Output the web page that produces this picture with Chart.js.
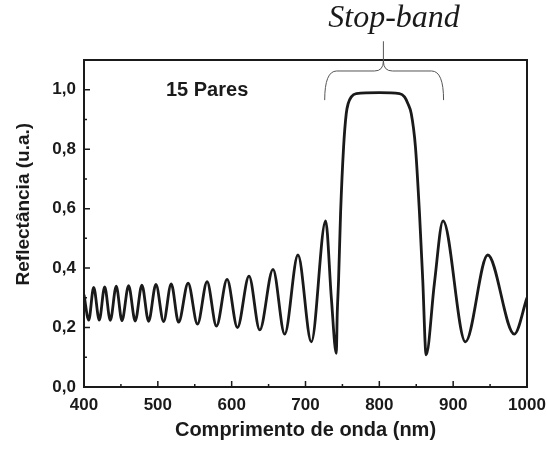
<!DOCTYPE html>
<html><head><meta charset="utf-8">
<script src="https://cdn.jsdelivr.net/npm/chart.js@4/dist/chart.umd.min.js"></script>
<style>html,body{margin:0;padding:0;background:#fff;}</style>
</head><body>
<canvas id="c" width="547" height="450"></canvas>
<script>
// ---- data ----
const wavelength = [400, 406.4, 413.1, 420.7, 428.0, 435.6, 443.7, 451.4, 460.4, 469.4, 478.4, 487.5, 497.4, 507.8, 518.1, 528.1, 541.0, 553.7, 566.7, 579.4, 593.8, 607.8, 623.5, 638.0, 656.0, 671.8, 689.8, 707.9, 727.3, 735.0, 741.7, 743.0, 744.8, 747.5, 751.6, 755.2, 757.9, 762.0, 768.7, 800, 827.3, 834.1, 838.6, 843.2, 848.9, 854.4, 858.8, 863.4, 874.6, 886.3, 916.6, 946.8, 982.8, 1000];
const reflectance = [0.31, 0.225, 0.335, 0.225, 0.337, 0.224, 0.339, 0.223, 0.341, 0.222, 0.343, 0.221, 0.345, 0.220, 0.347, 0.218, 0.349, 0.212, 0.354, 0.205, 0.362, 0.200, 0.373, 0.192, 0.396, 0.178, 0.444, 0.152, 0.559, 0.30, 0.113, 0.248, 0.36, 0.584, 0.808, 0.92, 0.954, 0.976, 0.987, 0.99, 0.987, 0.976, 0.954, 0.92, 0.808, 0.584, 0.36, 0.108, 0.349, 0.559, 0.152, 0.444, 0.178, 0.30];
const xTickValues = [400, 500, 600, 700, 800, 900, 1000];
const xMinorTicks = [450, 550, 650, 750, 850, 950];
const yTickValues = [0, 0.2, 0.4, 0.6, 0.8, 1.0];
const yMinorTicks = [0.1, 0.3, 0.5, 0.7, 0.9];
const xTitle = 'Comprimento de onda (nm)';
const yTitle = 'Reflectância (u.a.)';
const pairsLabel = '15 Pares';
const bandLabel = 'Stop-band';

const points = wavelength.map((w, i) => ({x: w, y: reflectance[i]}));
const INK = '#1a1a1a';
const SANS = '"Liberation Sans", Arial, sans-serif';

const decor = {
  id: 'decor',
  afterDraw(chart) {
    const {ctx, chartArea: a, scales: {x, y}} = chart;
    ctx.save();
    // frame
    ctx.strokeStyle = INK; ctx.lineWidth = 2;
    ctx.strokeRect(a.left, a.top, a.right - a.left, a.bottom - a.top);
    // inward ticks
    ctx.lineWidth = 1.5;
    ctx.beginPath();
    xTickValues.forEach(v => { const p = x.getPixelForValue(v); ctx.moveTo(p, a.bottom); ctx.lineTo(p, a.bottom - 6); });
    xMinorTicks.forEach(v => { const p = x.getPixelForValue(v); ctx.moveTo(p, a.bottom); ctx.lineTo(p, a.bottom - 3); });
    yTickValues.forEach(v => { const p = y.getPixelForValue(v); ctx.moveTo(a.left, p); ctx.lineTo(a.left + 6, p); });
    yMinorTicks.forEach(v => { const p = y.getPixelForValue(v); ctx.moveTo(a.left, p); ctx.lineTo(a.left + 3, p); });
    ctx.stroke();
    ctx.fillStyle = INK;
    // y axis title
    ctx.save();
    ctx.font = 'bold 19px ' + SANS;
    ctx.textAlign = 'center'; ctx.textBaseline = 'middle';
    ctx.translate(24, y.getPixelForValue(0.615));
    ctx.rotate(-Math.PI / 2);
    ctx.fillText(yTitle, 0, 0);
    ctx.restore();
    // "15 Pares"
    ctx.font = 'bold 20px ' + SANS;
    ctx.textAlign = 'left'; ctx.textBaseline = 'alphabetic';
    ctx.fillText(pairsLabel, x.getPixelForValue(511), y.getPixelForValue(0.978));
    // Stop-band label
    ctx.font = 'italic 32px "Liberation Serif", "Times New Roman", serif';
    ctx.textAlign = 'center';
    ctx.fillText(bandLabel, x.getPixelForValue(820), y.getPixelForValue(1.21));
    // brace
    const xL = x.getPixelForValue(726), xR = x.getPixelForValue(887), xC = x.getPixelForValue(805.5);
    const yB = y.getPixelForValue(0.965), yH = y.getPixelForValue(1.063), yT = y.getPixelForValue(1.163);
    ctx.strokeStyle = '#555'; ctx.lineWidth = 1;
    ctx.beginPath();
    ctx.moveTo(xL, yB);
    ctx.quadraticCurveTo(xL, yH, xL + 12, yH);
    ctx.lineTo(xC - 9, yH);
    ctx.quadraticCurveTo(xC, yH, xC, yH - 10);
    ctx.lineTo(xC, yT);
    ctx.moveTo(xC, yH - 10);
    ctx.quadraticCurveTo(xC, yH, xC + 9, yH);
    ctx.lineTo(xR - 12, yH);
    ctx.quadraticCurveTo(xR, yH, xR, yB);
    ctx.stroke();
    ctx.restore();
  }
};

new Chart(document.getElementById('c'), {
  type: 'line',
  data: { datasets: [{
    data: points,
    borderColor: INK,
    borderWidth: 2.8,
    pointRadius: 0,
    fill: false,
    cubicInterpolationMode: 'monotone'
  }]},
  options: {
    responsive: false,
    animation: false,
    layout: { padding: { top: 60, right: 20, left: 0, bottom: 0 } },
    plugins: { legend: { display: false }, tooltip: { enabled: false } },
    scales: {
      x: {
        type: 'linear', min: 400, max: 1000,
        afterFit(s) { s.height = 63; s.paddingLeft = 0; s.paddingRight = 0; },
        afterBuildTicks(s) { s.ticks = xTickValues.map(v => ({value: v})); },
        grid: { display: false, drawTicks: false },
        border: { display: false },
        ticks: { padding: 8, color: INK, font: { family: SANS, size: 17, weight: 'bold' }, maxRotation: 0, autoSkip: false,
          callback: v => String(v) },
        title: { display: true, text: xTitle, color: INK, padding: { top: 0, bottom: 8 }, font: { family: SANS, size: 20, weight: 'bold' } }
      },
      y: {
        type: 'linear', min: 0, max: 1.1,
        afterFit(s) { s.width = 84; s.paddingTop = 0; s.paddingBottom = 0; },
        afterBuildTicks(s) { s.ticks = yTickValues.map(v => ({value: v})); },
        grid: { display: false, drawTicks: false },
        border: { display: false },
        ticks: { padding: 8, color: INK, font: { family: SANS, size: 17, weight: 'bold' },
          callback: v => v.toFixed(1).replace('.', ',') },
        title: { display: false }
      }
    }
  },
  plugins: [decor]
});
</script>
</body></html>
